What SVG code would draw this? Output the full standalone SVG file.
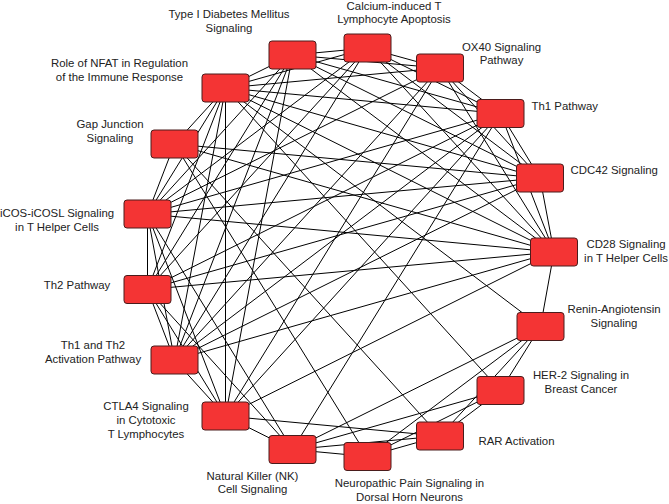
<svg xmlns="http://www.w3.org/2000/svg" width="669" height="504" viewBox="0 0 669 504">
<style>
.e line{stroke:#000;stroke-width:1}
.n rect{fill:#f43434;stroke:#4a1c1c;stroke-width:1}
text{font-family:"Liberation Sans",Arial,sans-serif;font-size:11.4px;fill:#222}
.c{text-anchor:middle}
</style>
<rect width="669" height="504" fill="#fff"/>
<g id="edges" class="e">
<line x1="292.5" y1="55" x2="367.5" y2="48"/>
<line x1="292.5" y1="55" x2="440" y2="68"/>
<line x1="292.5" y1="55" x2="500.5" y2="113.5"/>
<line x1="292.5" y1="55" x2="540" y2="178"/>
<line x1="292.5" y1="55" x2="554" y2="252"/>
<line x1="292.5" y1="55" x2="225.5" y2="416"/>
<line x1="292.5" y1="55" x2="174.5" y2="360"/>
<line x1="292.5" y1="55" x2="147.5" y2="289.5"/>
<line x1="292.5" y1="55" x2="147.5" y2="214"/>
<line x1="292.5" y1="55" x2="225.5" y2="88"/>
<line x1="367.5" y1="48" x2="440" y2="68"/>
<line x1="367.5" y1="48" x2="500.5" y2="113.5"/>
<line x1="367.5" y1="48" x2="540" y2="178"/>
<line x1="367.5" y1="48" x2="554" y2="252"/>
<line x1="367.5" y1="48" x2="174.5" y2="360"/>
<line x1="367.5" y1="48" x2="147.5" y2="289.5"/>
<line x1="367.5" y1="48" x2="147.5" y2="214"/>
<line x1="367.5" y1="48" x2="225.5" y2="88"/>
<line x1="440" y1="68" x2="500.5" y2="113.5"/>
<line x1="440" y1="68" x2="540" y2="178"/>
<line x1="440" y1="68" x2="554" y2="252"/>
<line x1="440" y1="68" x2="225.5" y2="416"/>
<line x1="440" y1="68" x2="174.5" y2="360"/>
<line x1="440" y1="68" x2="147.5" y2="214"/>
<line x1="440" y1="68" x2="225.5" y2="88"/>
<line x1="500.5" y1="113.5" x2="540" y2="178"/>
<line x1="500.5" y1="113.5" x2="554" y2="252"/>
<line x1="500.5" y1="113.5" x2="292.5" y2="449.5"/>
<line x1="500.5" y1="113.5" x2="225.5" y2="416"/>
<line x1="500.5" y1="113.5" x2="174.5" y2="360"/>
<line x1="500.5" y1="113.5" x2="147.5" y2="289.5"/>
<line x1="500.5" y1="113.5" x2="147.5" y2="214"/>
<line x1="500.5" y1="113.5" x2="225.5" y2="88"/>
<line x1="540" y1="178" x2="554" y2="252"/>
<line x1="540" y1="178" x2="174.5" y2="360"/>
<line x1="540" y1="178" x2="147.5" y2="289.5"/>
<line x1="540" y1="178" x2="147.5" y2="214"/>
<line x1="540" y1="178" x2="174.5" y2="144"/>
<line x1="540" y1="178" x2="225.5" y2="88"/>
<line x1="554" y1="252" x2="540.5" y2="326.5"/>
<line x1="554" y1="252" x2="225.5" y2="416"/>
<line x1="554" y1="252" x2="174.5" y2="360"/>
<line x1="554" y1="252" x2="147.5" y2="289.5"/>
<line x1="554" y1="252" x2="147.5" y2="214"/>
<line x1="554" y1="252" x2="174.5" y2="144"/>
<line x1="554" y1="252" x2="225.5" y2="88"/>
<line x1="540.5" y1="326.5" x2="500.5" y2="390.5"/>
<line x1="540.5" y1="326.5" x2="440" y2="436"/>
<line x1="540.5" y1="326.5" x2="367.5" y2="456.5"/>
<line x1="540.5" y1="326.5" x2="292.5" y2="449.5"/>
<line x1="540.5" y1="326.5" x2="225.5" y2="88"/>
<line x1="500.5" y1="390.5" x2="440" y2="436"/>
<line x1="500.5" y1="390.5" x2="367.5" y2="456.5"/>
<line x1="500.5" y1="390.5" x2="292.5" y2="449.5"/>
<line x1="500.5" y1="390.5" x2="225.5" y2="88"/>
<line x1="440" y1="436" x2="367.5" y2="456.5"/>
<line x1="440" y1="436" x2="292.5" y2="449.5"/>
<line x1="440" y1="436" x2="225.5" y2="416"/>
<line x1="440" y1="436" x2="174.5" y2="144"/>
<line x1="367.5" y1="456.5" x2="292.5" y2="449.5"/>
<line x1="367.5" y1="456.5" x2="174.5" y2="144"/>
<line x1="292.5" y1="449.5" x2="225.5" y2="416"/>
<line x1="292.5" y1="449.5" x2="147.5" y2="289.5"/>
<line x1="292.5" y1="449.5" x2="147.5" y2="214"/>
<line x1="225.5" y1="416" x2="174.5" y2="360"/>
<line x1="225.5" y1="416" x2="147.5" y2="289.5"/>
<line x1="225.5" y1="416" x2="147.5" y2="214"/>
<line x1="225.5" y1="416" x2="225.5" y2="88"/>
<line x1="174.5" y1="360" x2="147.5" y2="289.5"/>
<line x1="174.5" y1="360" x2="147.5" y2="214"/>
<line x1="174.5" y1="360" x2="225.5" y2="88"/>
<line x1="147.5" y1="289.5" x2="147.5" y2="214"/>
<line x1="147.5" y1="289.5" x2="225.5" y2="88"/>
<line x1="147.5" y1="214" x2="174.5" y2="144"/>
<line x1="147.5" y1="214" x2="225.5" y2="88"/>
<line x1="174.5" y1="144" x2="225.5" y2="88"/>
</g>
<g id="typeI" class="n"><rect x="269" y="41" width="47" height="28" rx="3"/><text class="c" x="229" y="18">Type I Diabetes Mellitus</text><text class="c" x="229" y="31.5">Signaling</text></g>
<g id="calcium" class="n"><rect x="344" y="34" width="47" height="28" rx="3"/><text class="c" x="394" y="9.5">Calcium-induced T</text><text class="c" x="394" y="23">Lymphocyte Apoptosis</text></g>
<g id="ox40" class="n"><rect x="416.5" y="54" width="47" height="28" rx="3"/><text class="c" x="501.5" y="50.5">OX40 Signaling</text><text class="c" x="501.5" y="64">Pathway</text></g>
<g id="th1" class="n"><rect x="477" y="99.5" width="47" height="28" rx="3"/><text x="531.5" y="110">Th1 Pathway</text></g>
<g id="cdc42" class="n"><rect x="516.5" y="164" width="47" height="28" rx="3"/><text x="570.5" y="174">CDC42 Signaling</text></g>
<g id="cd28" class="n"><rect x="530.5" y="238" width="47" height="28" rx="3"/><text class="c" x="626" y="248">CD28 Signaling</text><text class="c" x="626" y="261.5">in T Helper Cells</text></g>
<g id="renin" class="n"><rect x="517" y="312.5" width="47" height="28" rx="3"/><text class="c" x="614" y="313">Renin-Angiotensin</text><text class="c" x="614" y="326.5">Signaling</text></g>
<g id="her2" class="n"><rect x="477" y="376.5" width="47" height="28" rx="3"/><text class="c" x="581" y="379">HER-2 Signaling in</text><text class="c" x="581" y="392.5">Breast Cancer</text></g>
<g id="rar" class="n"><rect x="416.5" y="422" width="47" height="28" rx="3"/><text x="478.5" y="445">RAR Activation</text></g>
<g id="neuropathic" class="n"><rect x="344" y="442.5" width="47" height="28" rx="3"/><text class="c" x="409.5" y="487">Neuropathic Pain Signaling in</text><text class="c" x="409.5" y="500.5">Dorsal Horn Neurons</text></g>
<g id="nk" class="n"><rect x="269" y="435.5" width="47" height="28" rx="3"/><text class="c" x="252.5" y="479.5">Natural Killer (NK)</text><text class="c" x="252.5" y="493">Cell Signaling</text></g>
<g id="ctla4" class="n"><rect x="202" y="402" width="47" height="28" rx="3"/><text class="c" x="146" y="410">CTLA4 Signaling</text><text class="c" x="146" y="424">in Cytotoxic</text><text class="c" x="146" y="438">T Lymphocytes</text></g>
<g id="th1th2" class="n"><rect x="151" y="346" width="47" height="28" rx="3"/><text class="c" x="93" y="348.5">Th1 and Th2</text><text class="c" x="93" y="362.5">Activation Pathway</text></g>
<g id="th2" class="n"><rect x="124" y="275.5" width="47" height="28" rx="3"/><text class="c" x="77" y="289">Th2 Pathway</text></g>
<g id="icos" class="n"><rect x="124" y="200" width="47" height="28" rx="3"/><text class="c" x="57" y="217">iCOS-iCOSL Signaling</text><text class="c" x="57" y="231">in T Helper Cells</text></g>
<g id="gap" class="n"><rect x="151" y="130" width="47" height="28" rx="3"/><text class="c" x="110" y="127.5">Gap Junction</text><text class="c" x="110" y="141.5">Signaling</text></g>
<g id="nfat" class="n"><rect x="202" y="74" width="47" height="28" rx="3"/><text class="c" x="119.5" y="66.5">Role of NFAT in Regulation</text><text class="c" x="119.5" y="80.5">of the Immune Response</text></g>
</svg>
